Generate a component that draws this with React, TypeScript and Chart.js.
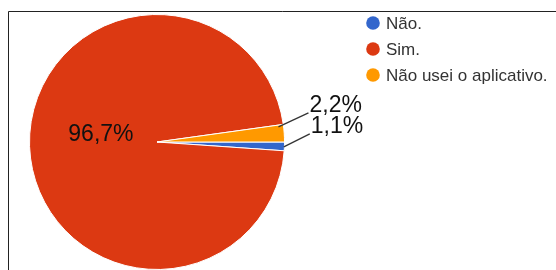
import React, { useEffect, useRef } from "react";
import { Chart, registerables } from "chart.js";

Chart.register(...registerables);

const categories = ["Não.", "Sim.", "Não usei o aplicativo."];
const values = [1.1, 96.7, 2.2];
const valueLabels = ["1,1%", "96,7%", "2,2%"];
const colors = ["#3366cc", "#dc3912", "#ff9900"];

const FONT = "'Liberation Sans', Arial, sans-serif";

const overlayPlugin = {
  id: "overlay",
  beforeDraw(chart: any) {
    const ctx = chart.ctx;
    ctx.save();
    ctx.strokeStyle = "#222";
    ctx.lineWidth = 1;
    ctx.beginPath();
    ctx.moveTo(8.5, 270);
    ctx.lineTo(8.5, 11.5);
    ctx.lineTo(556, 11.5);
    ctx.stroke();
    ctx.restore();
  },
  afterDraw(chart: any) {
    const ctx = chart.ctx;
    const meta = chart.getDatasetMeta(0);
    ctx.save();
    // legend
    categories.forEach((c, i) => {
      const y = 23 + i * 26;
      ctx.fillStyle = colors[i];
      ctx.beginPath();
      ctx.arc(373, y, 6.8, 0, Math.PI * 2);
      ctx.fill();
      ctx.fillStyle = "#333";
      ctx.font = `17px ${FONT}`;
      ctx.textAlign = "left";
      ctx.textBaseline = "middle";
      ctx.fillText(c, 386, y + 1);
    });
    // slice labels
    meta.data.forEach((arc: any, i: number) => {
      const { x, y, startAngle, endAngle, outerRadius } = arc.getProps(
        ["x", "y", "startAngle", "endAngle", "outerRadius"],
        true
      );
      ctx.font = `23px ${FONT}`;
      ctx.fillStyle = "#111";
      if (i === 1) {
        const mid = (startAngle + endAngle) / 2;
        const r = outerRadius * 0.44;
        ctx.textAlign = "center";
        ctx.textBaseline = "middle";
        ctx.fillText(valueLabels[i], x + Math.cos(mid) * r, y + Math.sin(mid) * r - 9);
      } else {
        const t = i === 0 ? 0.55 : 0.1;
        const k = i === 0 ? 0.995 : 0.96;
        const a = startAngle + t * (endAngle - startAngle);
        const sx = x + Math.cos(a) * outerRadius * k;
        const sy = y + Math.sin(a) * outerRadius * k;
        const ex = sx + (i === 0 ? 26 : 30);
        const ey = sy - (i === 0 ? 13 : 14);
        ctx.strokeStyle = "#333";
        ctx.lineWidth = 1.3;
        ctx.beginPath();
        ctx.moveTo(sx, sy);
        ctx.lineTo(ex, ey);
        ctx.stroke();
        ctx.textAlign = "left";
        ctx.textBaseline = "alphabetic";
        ctx.fillText(valueLabels[i], ex + 1, ey - 1);
      }
    });
    ctx.restore();
  },
};

export default function App() {
  const ref = useRef<HTMLCanvasElement>(null);
  useEffect(() => {
    if (!ref.current) return;
    const chart = new Chart(ref.current, {
      type: "pie",
      data: {
        labels: categories,
        datasets: [
          {
            data: values,
            backgroundColor: colors,
            borderColor: "#ffffff",
            borderWidth: 1,
            hoverOffset: 0,
          },
        ],
      },
      options: {
        responsive: false,
        animation: false,
        rotation: 90,
        layout: { padding: { left: 29, top: 14, right: 271, bottom: 0 } },
        plugins: { legend: { display: false }, tooltip: { enabled: false } },
      },
      plugins: [overlayPlugin],
    });
    return () => chart.destroy();
  }, []);
  return (
    <div style={{ position: "fixed", left: 0, top: 0, width: 556, height: 270, background: "#fff" }}>
      <canvas ref={ref} width={556} height={270} />
    </div>
  );
}
